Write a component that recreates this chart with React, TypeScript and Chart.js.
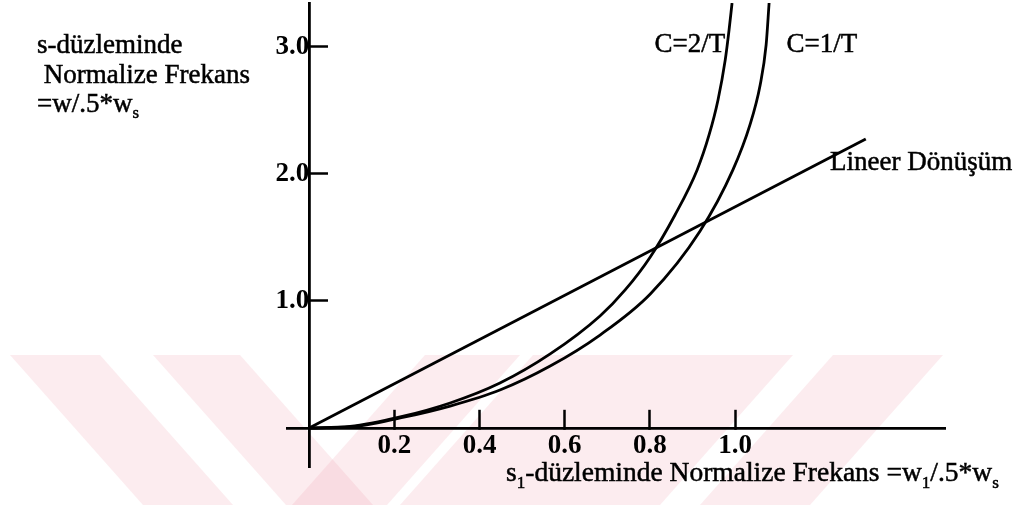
import React, { useEffect, useRef } from "react";
import { Chart, registerables } from "chart.js";

Chart.register(...registerables);

// ---- data ----
const xTickValues = [0.2, 0.4, 0.6, 0.8, 1.0];
const yTickValues = [1.0, 2.0, 3.0];

const linearX = [0, 1.307];
const linearY = [0, 2.276];

const c2X = [0, 0.096, 0.214, 0.331, 0.448, 0.566, 0.683, 0.742, 0.801, 0.859, 0.911, 0.939, 0.96, 0.977, 0.986, 0.993];
const c2Y = [0, 0.012, 0.087, 0.197, 0.354, 0.583, 0.882, 1.087, 1.347, 1.677, 2.032, 2.307, 2.583, 2.898, 3.134, 3.346];

const c1X = [0, 0.096, 0.214, 0.331, 0.448, 0.566, 0.683, 0.801, 0.918, 0.995, 1.035, 1.059, 1.073, 1.08];
const c1Y = [0, 0.008, 0.079, 0.173, 0.299, 0.488, 0.732, 1.055, 1.551, 2.032, 2.386, 2.701, 3.016, 3.346];

const curveLabels = ["C=2/T", "C=1/T", "Lineer Dönüşüm"];
const curveLabelX = [0.894, 1.204, 1.223];
const curveLabelY = [2.961, 2.961, 2.031];
const curveLabelAlign = ["center", "center", "left"];

const yTitleLines = [
  [{ t: "s-düzleminde" }],
  [{ t: " Normalize Frekans" }],
  [{ t: "=w/.5*w" }, { t: "s", sub: true }],
];
const xTitle = [
  { t: "s" },
  { t: "1", sub: true },
  { t: "-düzleminde Normalize Frekans =w" },
  { t: "1", sub: true },
  { t: "/.5*w" },
  { t: "s", sub: true },
];

const FONT = '"Liberation Serif", "Times New Roman", serif';

function zip(xs: number[], ys: number[]) {
  return xs.map((x, i) => ({ x, y: ys[i] }));
}

function drawRich(ctx: CanvasRenderingContext2D, parts: any[], x: number, y: number, size: number) {
  let cx = x;
  for (const p of parts) {
    const s = p.sub ? size * 0.62 : size;
    ctx.font = `${s}px ${FONT}`;
    const yy = p.sub ? y + size * 0.24 : y;
    ctx.fillText(p.t, cx, yy);
    ctx.lineWidth = 0.5;
    ctx.strokeText(p.t, cx, yy);
    cx += ctx.measureText(p.t).width;
  }
}

const watermarkPlugin = {
  id: "watermark",
  beforeDraw(chart: any) {
    const ctx = chart.ctx as CanvasRenderingContext2D;
    ctx.save();
    ctx.fillStyle = "#ffffff";
    ctx.fillRect(0, 0, chart.width, chart.height);
    ctx.fillStyle = "rgba(240,150,165,0.18)";
    const top = 355;
    const bottom = chart.height;
    const shift = ((bottom - top) * 133) / 150;
    const bands = [
      [10, 100, 1],
      [153, 240, 1],
      [425, 520, -1],
      [533, 793, -1],
      [833, 943, -1],
    ];
    for (const [a, b, d] of bands) {
      ctx.beginPath();
      ctx.moveTo(a, top);
      ctx.lineTo(b, top);
      ctx.lineTo(b + d * shift, bottom);
      ctx.lineTo(a + d * shift, bottom);
      ctx.closePath();
      ctx.fill();
    }
    ctx.restore();
  },
};

const textPlugin = {
  id: "texts",
  afterDraw(chart: any) {
    const ctx = chart.ctx as CanvasRenderingContext2D;
    const xs = chart.scales.x;
    const ys = chart.scales.y;
    ctx.save();
    ctx.fillStyle = "#000";
    ctx.strokeStyle = "#000";
    ctx.textBaseline = "alphabetic";
    curveLabels.forEach((t, i) => {
      ctx.font = `27px ${FONT}`;
      ctx.textAlign = curveLabelAlign[i] as CanvasTextAlign;
      const px = xs.getPixelForValue(curveLabelX[i]);
      const py = ys.getPixelForValue(curveLabelY[i]);
      ctx.fillText(t, px, py);
      ctx.lineWidth = 0.5;
      ctx.strokeText(t, px, py);
    });
    ctx.textAlign = "left";
    const yBase = [53, 83, 112];
    yTitleLines.forEach((parts, i) => drawRich(ctx, parts, 37, yBase[i], 27));
    drawRich(ctx, xTitle, 506, 481, 27.5);
    ctx.restore();
  },
};

function zeroPad(s: any) {
  s.paddingTop = 0;
  s.paddingBottom = 0;
  s.paddingLeft = 0;
  s.paddingRight = 0;
}

export default function App() {
  const ref = useRef<HTMLCanvasElement>(null);
  useEffect(() => {
    if (!ref.current) return;
    const lineStyle = {
      borderColor: "#000",
      borderWidth: 2.8,
      pointRadius: 0,
      fill: false,
      showLine: true,
      cubicInterpolationMode: "monotone" as const,
    };
    const chart = new Chart(ref.current, {
      type: "scatter",
      data: {
        datasets: [
          { label: "Lineer Dönüşüm", data: zip(linearX, linearY), ...lineStyle },
          { label: "C=2/T", data: zip(c2X, c2Y), ...lineStyle },
          { label: "C=1/T", data: zip(c1X, c1Y), ...lineStyle },
        ],
      },
      options: {
        animation: false,
        responsive: false,
        events: [],
        layout: { padding: { left: 287, right: 70, top: 3, bottom: 38 } },
        plugins: { legend: { display: false }, tooltip: { enabled: false } },
        scales: {
          x: {
            type: "linear",
            min: -0.052,
            max: 1.493,
            position: { y: 0 } as any,
            afterFit: (s: any) => {
              s.height = 0;
              zeroPad(s);
            },
            afterBuildTicks: (s: any) => {
              s.ticks = xTickValues.map((v) => ({ value: v }));
            },
            grid: {
              drawOnChartArea: false,
              drawTicks: true,
              tickLength: -20,
              tickWidth: 2.5,
              tickColor: "#000",
            },
            border: { display: true, color: "#000", width: 2.8 },
            ticks: {
              color: "#000",
              font: { family: FONT, size: 27, weight: "bold" },
              padding: 22,
              maxRotation: 0,
              autoSkip: false,
              callback: (v: any) => Number(v).toFixed(1),
            },
          },
          y: {
            type: "linear",
            min: -0.307,
            max: 3.346,
            position: { x: 0 } as any,
            afterFit: (s: any) => {
              s.width = 0;
              zeroPad(s);
            },
            afterBuildTicks: (s: any) => {
              s.ticks = yTickValues.map((v) => ({ value: v }));
            },
            grid: {
              drawOnChartArea: false,
              drawTicks: true,
              tickLength: -20,
              tickWidth: 2.5,
              tickColor: "#000",
            },
            border: { display: true, color: "#000", width: 2.8 },
            ticks: {
              color: "#000",
              font: { family: FONT, size: 27, weight: "bold" },
              padding: 27,
              autoSkip: false,
              callback: (v: any) => Number(v).toFixed(1),
            },
          },
        },
      },
      plugins: [watermarkPlugin, textPlugin],
    });
    return () => chart.destroy();
  }, []);
  return (
    <div style={{ position: "fixed", left: 0, top: 0, width: 1015, height: 505, background: "#fff" }}>
      <canvas ref={ref} width={1015} height={505} style={{ display: "block" }} />
    </div>
  );
}
